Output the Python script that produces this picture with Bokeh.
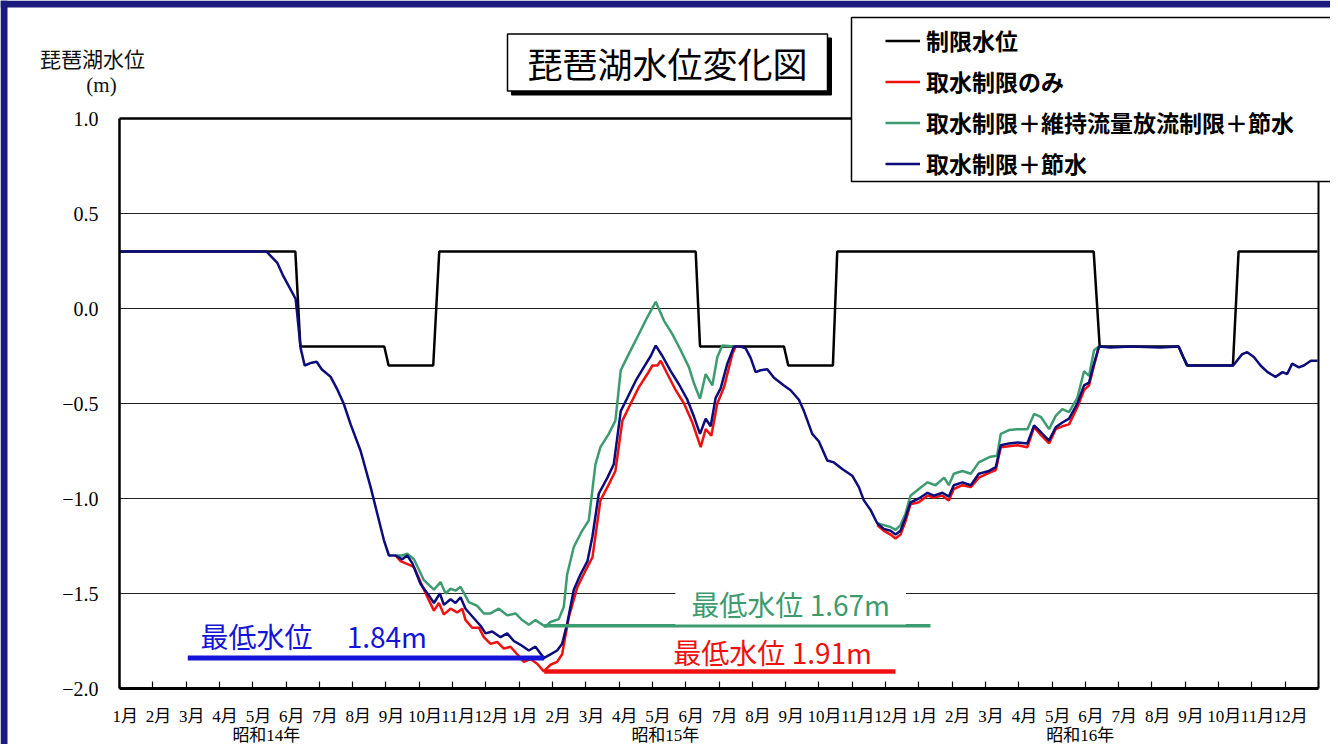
from bokeh.plotting import figure
from bokeh.models import (Range1d, FixedTicker, Label, Legend, LegendItem, BoxAnnotation,
                          LinearAxis)
from bokeh.embed import file_html
from bokeh.resources import INLINE

# ---------------- data ----------------
month_labels = ["1月", "2月", "3月", "4月", "5月", "6月", "7月", "8月", "9月", "10月", "11月", "12月"]
year_labels = ["昭和14年", "昭和15年", "昭和16年"]
year_label_pos = [4.41, 16.39, 28.85]
y_ticks = [-2.0, -1.5, -1.0, -0.5, 0.0, 0.5, 1.0]
y_tick_labels = ["−2.0", "−1.5", "−1.0", "−0.5", "0.0", "0.5", "1.0"]

series_names = ["制限水位", "取水制限のみ", "取水制限＋維持流量放流制限＋節水", "取水制限＋節水"]

# 制限水位 (x in months from 昭和14年1月)
bx = [0, 5.28, 5.43, 7.95, 8.08, 9.42, 9.6, 17.3, 17.43, 19.95, 20.08, 21.42, 21.55,
      29.25, 29.43, 31.8, 32.05, 33.43, 33.6, 35.97]
by = [0.3, 0.3, -0.2, -0.2, -0.3, -0.3, 0.3, 0.3, -0.2, -0.2, -0.3, -0.3, 0.3,
      0.3, -0.2, -0.2, -0.3, -0.3, 0.3, 0.3]

# 取水制限＋節水
nx = [0, 4.41, 4.74, 4.92, 5.29, 5.44, 5.56, 5.77, 5.92, 6.07,
      6.34, 6.55, 6.73, 6.94, 7.24, 7.54, 7.74, 7.94, 8.09, 8.29,
      8.49, 8.64, 8.79, 9.04, 9.29, 9.44, 9.62, 9.74, 9.94, 10.09,
      10.24, 10.39, 10.64, 10.84, 10.99, 11.19, 11.44, 11.64, 11.84, 12.04,
      12.29, 12.49, 12.74, 12.94, 13.14, 13.29, 13.44, 13.64, 13.84, 14.05,
      14.20, 14.39, 14.65, 14.84, 15.05, 15.25, 15.50, 15.74, 15.95, 16.10,
      16.30, 16.55, 16.80, 17.05, 17.25, 17.43, 17.60, 17.75, 17.90, 18.05,
      18.25, 18.45, 18.65, 18.80, 18.95, 19.10, 19.25, 19.45, 19.65, 19.95,
      20.15, 20.40, 20.55, 20.80, 21.00, 21.25, 21.45, 21.70, 22.00, 22.20,
      22.35, 22.55, 22.75, 22.95, 23.15, 23.30, 23.45, 23.60, 23.75, 24.00,
      24.26, 24.45, 24.71, 24.90, 25.05, 25.31, 25.56, 25.80, 26.11, 26.31,
      26.46, 26.71, 26.96, 27.26, 27.46, 27.66, 27.91, 28.11, 28.31, 28.51,
      28.76, 28.96, 29.11, 29.26, 29.41, 29.76, 30.36, 31.26, 31.80, 31.95,
      32.07, 33.44, 33.71, 33.86, 34.06, 34.26, 34.47, 34.71, 34.92, 35.06,
      35.21, 35.41, 35.56, 35.77, 35.97]
ny = [0.30, 0.30, 0.24, 0.17, 0.05, -0.21, -0.30, -0.285, -0.28, -0.32,
      -0.36, -0.43, -0.50, -0.61, -0.75, -0.94, -1.08, -1.22, -1.30, -1.30,
      -1.32, -1.30, -1.34, -1.45, -1.51, -1.55, -1.50, -1.56, -1.53, -1.55,
      -1.52, -1.58, -1.63, -1.67, -1.71, -1.70, -1.73, -1.71, -1.75, -1.77,
      -1.80, -1.78, -1.84, -1.82, -1.80, -1.765, -1.66, -1.48, -1.40, -1.33,
      -1.20, -0.975, -0.89, -0.82, -0.54, -0.47, -0.38, -0.31, -0.25, -0.195,
      -0.25, -0.33, -0.40, -0.48, -0.57, -0.66, -0.58, -0.62, -0.47, -0.42,
      -0.29, -0.20, -0.20, -0.21, -0.26, -0.335, -0.325, -0.32, -0.365, -0.405,
      -0.43, -0.48, -0.54, -0.66, -0.70, -0.80, -0.81, -0.845, -0.88, -0.94,
      -1.01, -1.06, -1.13, -1.16, -1.17, -1.19, -1.17, -1.10, -1.02, -1.00,
      -0.97, -0.985, -0.97, -0.99, -0.93, -0.915, -0.93, -0.87, -0.855, -0.835,
      -0.72, -0.71, -0.705, -0.71, -0.615, -0.65, -0.695, -0.625, -0.60, -0.58,
      -0.50, -0.405, -0.39, -0.29, -0.20, -0.205, -0.20, -0.205, -0.20, -0.26,
      -0.30, -0.30, -0.24, -0.23, -0.255, -0.30, -0.335, -0.36, -0.335, -0.345,
      -0.29, -0.31, -0.30, -0.275, -0.275]

# 取水制限のみ (where it departs from the navy line)
rx1 = [8.29, 8.44, 8.84, 9.14, 9.44, 9.59, 9.74, 9.94, 10.14, 10.29,
       10.39, 10.59, 10.79, 10.94, 11.14, 11.34, 11.54, 11.74, 11.94, 12.14,
       12.34, 12.54, 12.74, 12.94, 13.14, 13.29, 13.49, 13.74, 13.99, 14.20,
       14.44, 14.65, 14.89, 15.10, 15.35, 15.59, 15.85, 16.00, 16.15, 16.25,
       16.45, 16.70, 16.95, 17.20, 17.45, 17.60, 17.77, 17.95, 18.15, 18.40,
       18.50, 18.65]
ry1 = [-1.30, -1.33, -1.36, -1.48, -1.59, -1.55, -1.61, -1.58, -1.60, -1.58,
       -1.64, -1.68, -1.68, -1.73, -1.765, -1.755, -1.79, -1.78, -1.82, -1.86,
       -1.845, -1.87, -1.91, -1.875, -1.86, -1.82, -1.625, -1.47, -1.38, -1.31,
       -1.01, -0.94, -0.855, -0.59, -0.50, -0.415, -0.345, -0.30, -0.30, -0.275,
       -0.345, -0.43, -0.50, -0.60, -0.73, -0.635, -0.67, -0.50, -0.415, -0.24,
       -0.20, -0.20]
rx2 = [22.75, 22.95, 23.15, 23.30, 23.45, 23.60, 23.75, 24.00, 24.26, 24.45,
       24.71, 24.90, 25.05, 25.31, 25.56, 25.80, 26.11, 26.31, 26.46, 26.71,
       26.96, 27.26, 27.46, 27.66, 27.91, 28.11, 28.31, 28.51, 28.76, 28.96,
       29.11, 29.26, 29.41]
ry2 = [-1.14, -1.17, -1.19, -1.21, -1.19, -1.12, -1.03, -1.02, -0.985, -0.995,
       -0.985, -1.01, -0.95, -0.93, -0.94, -0.89, -0.865, -0.85, -0.73, -0.725,
       -0.72, -0.73, -0.625, -0.665, -0.71, -0.635, -0.62, -0.61, -0.52, -0.43,
       -0.405, -0.30, -0.20]

# 取水制限＋維持流量放流制限＋節水
gx1 = [8.29, 8.49, 8.64, 8.84, 9.14, 9.44, 9.64, 9.79, 9.94, 10.09,
       10.24, 10.49, 10.74, 10.94, 11.14, 11.39, 11.64, 11.89, 12.09, 12.29,
       12.49, 12.79, 12.94, 13.19, 13.34, 13.44, 13.64, 13.89, 14.09, 14.29,
       14.44, 14.69, 14.89, 15.05, 15.29, 15.55, 15.85, 16.10, 16.35, 16.60,
       16.85, 17.10, 17.25, 17.43, 17.60, 17.80, 17.95, 18.10, 18.45, 18.65]
gy1 = [-1.30, -1.30, -1.29, -1.32, -1.43, -1.48, -1.44, -1.50, -1.475, -1.485,
       -1.465, -1.545, -1.565, -1.605, -1.605, -1.58, -1.615, -1.605, -1.64, -1.665,
       -1.64, -1.675, -1.65, -1.635, -1.57, -1.40, -1.255, -1.17, -1.115, -0.82,
       -0.73, -0.66, -0.59, -0.325, -0.24, -0.15, -0.045, 0.035, -0.065, -0.135,
       -0.22, -0.31, -0.395, -0.475, -0.345, -0.405, -0.255, -0.195, -0.20, -0.20]
gx2 = [22.75, 22.95, 23.15, 23.30, 23.45, 23.60, 23.75, 24.00, 24.26, 24.50,
       24.76, 24.90, 25.05, 25.31, 25.56, 25.80, 26.15, 26.35, 26.46, 26.71,
       26.96, 27.26, 27.46, 27.66, 27.91, 28.11, 28.31, 28.51, 28.76, 28.96,
       29.11, 29.26, 29.41]
gy2 = [-1.13, -1.14, -1.15, -1.165, -1.14, -1.08, -0.985, -0.95, -0.915, -0.93,
       -0.89, -0.93, -0.87, -0.855, -0.87, -0.81, -0.78, -0.775, -0.66, -0.64,
       -0.635, -0.635, -0.555, -0.57, -0.635, -0.565, -0.53, -0.545, -0.47, -0.33,
       -0.355, -0.22, -0.20]

# 最低水位 annotations
min_values = [1.84, 1.91, 1.67]
min_x_start = [2.05, 12.75, 12.75]
min_x_end = [12.75, 23.3, 24.35]

# ---------------- layout / style ----------------
W, H = 1330, 744
FL, FR, FT, FB = 119, 1318, 118, 688          # plot-area edges in canvas pixels
X0, X1, Y0, Y1 = 0.0, 36.0, -2.0, 1.0
ppx = (FR - FL) / (X1 - X0)
ppy = (FB - FT) / (Y1 - Y0)
x_range = Range1d(X0 - FL / ppx, X1 + (W - FR) / ppx)
y_range = Range1d(Y0 - (H - FB) / ppy, Y1 + FT / ppy)
MONTH_LABEL_SHIFT = 0.17   # month labels sit slightly right of their tick marks

JP = "'Noto Sans CJK JP', sans-serif"
SERIF = "'Liberation Serif', 'Noto Sans CJK JP', serif"
C_BLACK = "#000000"
C_RED = "#f01010"
C_GREEN = "#3d9b70"
C_NAVY = "#0c0c7a"
C_BLUE = "#1414d8"
C_FRAME = "#1b1b7e"

p = figure(width=W, height=H, x_range=x_range, y_range=y_range,
           output_backend="svg", toolbar_location=None,
           min_border_left=0, min_border_right=0, min_border_top=0, min_border_bottom=0,
           background_fill_color="white", border_fill_color="white")
p.title.visible = False
p.outline_line_color = None
p.xgrid.visible = False
p.ygrid.visible = False

ya = p.yaxis[0]
ya.fixed_location = X0
ya.bounds = (Y0, Y1)
ya.ticker = FixedTicker(ticks=y_ticks)
ya.major_label_overrides = {t: s for t, s in zip(y_ticks, y_tick_labels)}
ya.major_tick_in = 0
ya.major_tick_out = 0
ya.minor_tick_line_color = None
ya.axis_line_width = 2.5
ya.axis_line_color = "black"
ya.major_label_standoff = 21
ya.major_label_text_font = SERIF
ya.major_label_text_font_size = "20px"
ya.major_label_text_color = "black"

# bottom axis: month labels on major ticks (hidden marks), tick marks at month
# boundaries drawn as minor ticks
xa = p.xaxis[0]
month_pos = [i + MONTH_LABEL_SHIFT for i in range(36)]
xa.fixed_location = Y0
xa.bounds = (X0, X1)
xa.ticker = FixedTicker(ticks=month_pos, minor_ticks=list(range(37)))
xa.major_label_overrides = {v: month_labels[i % 12] for i, v in enumerate(month_pos)}
xa.major_tick_line_color = None
xa.minor_tick_in = 7
xa.minor_tick_out = 0
xa.minor_tick_line_width = 1.2
xa.minor_tick_line_color = "black"
xa.axis_line_width = 2.8
xa.axis_line_color = "black"
xa.major_label_standoff = 12
xa.major_label_text_font = SERIF
xa.major_label_text_font_size = "17px"
xa.major_label_text_color = "black"

# year labels: another bottom axis without line or ticks
year_axis = LinearAxis(fixed_location=Y0, ticker=FixedTicker(ticks=year_label_pos),
                       major_label_overrides={v: s for v, s in zip(year_label_pos, year_labels)},
                       axis_line_color=None, major_tick_line_color=None,
                       minor_tick_line_color=None, major_label_standoff=31,
                       major_label_text_font=SERIF, major_label_text_font_size="17px",
                       major_label_text_color="black")
p.add_layout(year_axis, "below")

# top and right borders of the plot area
top_axis = LinearAxis(fixed_location=Y1, bounds=(X0, X1), ticker=FixedTicker(ticks=[]),
                      major_tick_line_color=None, minor_tick_line_color=None,
                      axis_line_width=2.5, axis_line_color="black")
p.add_layout(top_axis, "above")
right_axis = LinearAxis(fixed_location=X1, bounds=(Y0, Y1), ticker=FixedTicker(ticks=[]),
                        major_tick_line_color=None, minor_tick_line_color=None,
                        axis_line_width=2, axis_line_color="black")
p.add_layout(right_axis, "right")

# horizontal grid lines across the plot area
grid_y = [t for t in y_ticks if Y0 < t < Y1]
p.segment(x0=[X0] * len(grid_y), y0=grid_y, x1=[X1] * len(grid_y), y1=grid_y,
          line_color="#222222", line_width=1)

# data lines
r_black = p.line(bx, by, line_color=C_BLACK, line_width=2.5)
r_green = p.line(gx1, gy1, line_color=C_GREEN, line_width=2.5)
p.line(gx2, gy2, line_color=C_GREEN, line_width=2.5)
r_red = p.line(rx1, ry1, line_color=C_RED, line_width=2.5)
p.line(rx2, ry2, line_color=C_RED, line_width=2.5)
r_navy = p.line(nx, ny, line_color=C_NAVY, line_width=2.5)

# minimum level bars + texts
min_colors = [C_BLUE, C_RED, C_GREEN]
min_widths = [5, 4.5, 3.5]
for v, xs, xe, c, w in zip(min_values, min_x_start, min_x_end, min_colors, min_widths):
    p.line([xs, xe], [-v, -v], line_color=c, line_width=w)

min_text_pos = [(2.43, -1.726), (16.63, -1.81), (16.69, -1.553)]
min_text_fmt = ["最低水位　 {:.2f}m", "最低水位 {:.2f}m", "最低水位 {:.2f}m"]
for (tx, ty), fmt, v, c in zip(min_text_pos, min_text_fmt, min_values, min_colors):
    kw = {}
    if c == C_GREEN:
        kw = dict(background_fill_color="white", padding=(16, 1))
    p.add_layout(Label(x=tx, y=ty, text=fmt.format(v), text_color=c, text_font=JP,
                       text_font_size="28px", text_align="left", text_baseline="middle", **kw))

# slide frame bands
p.add_layout(BoxAnnotation(left=0, right=W, top=H, bottom=H - 7,
                           left_units="screen", right_units="screen",
                           top_units="screen", bottom_units="screen",
                           fill_color=C_FRAME, fill_alpha=1.0, line_color=None))
p.add_layout(BoxAnnotation(left=0, right=7, top=H, bottom=0,
                           left_units="screen", right_units="screen",
                           top_units="screen", bottom_units="screen",
                           fill_color=C_FRAME, fill_alpha=1.0, line_color=None))

# y axis title
p.add_layout(Label(x=92, y=H - 57, x_units="screen", y_units="screen", text="琵琶湖水位",
                   text_font=JP, text_font_size="21px", text_align="center",
                   text_baseline="middle", text_color="#111111"))
p.add_layout(Label(x=101, y=H - 84, x_units="screen", y_units="screen", text="(m)",
                   text_font=SERIF, text_font_size="21px", text_align="center",
                   text_baseline="middle", text_color="#111111"))

# chart title with shadow box
title_text = "琵琶湖水位変化図"
p.add_layout(Label(x=671, y=H - 66, x_units="screen", y_units="screen", text=title_text,
                   text_font=JP, text_font_size="35px", text_align="center", text_baseline="middle",
                   text_color="black", background_fill_color="black", border_line_color="black",
                   padding=(20, 3)))
p.add_layout(Label(x=667, y=H - 62, x_units="screen", y_units="screen", text=title_text,
                   text_font=JP, text_font_size="35px", text_align="center", text_baseline="middle",
                   text_color="black", background_fill_color="white", border_line_color="black",
                   border_line_width=1.5, padding=(20, 3)))

# legend box + legend
p.add_layout(BoxAnnotation(left=851, right=W + 40, top=H - 17, bottom=H - 181,
                           left_units="screen", right_units="screen",
                           top_units="screen", bottom_units="screen",
                           fill_color="white", fill_alpha=1.0,
                           line_color="black", line_width=1.5, line_alpha=1.0))
legend = Legend(items=[LegendItem(label=series_names[0], renderers=[r_black]),
                       LegendItem(label=series_names[1], renderers=[r_red]),
                       LegendItem(label=series_names[2], renderers=[r_green]),
                       LegendItem(label=series_names[3], renderers=[r_navy])],
                location=(885, H - 183.5), padding=0, spacing=0, margin=0,
                label_height=41, glyph_height=41, glyph_width=35, label_standoff=6,
                label_text_font=JP, label_text_font_size="23px", label_text_font_style="bold",
                label_text_color="black", background_fill_alpha=0, border_line_alpha=0)
p.add_layout(legend)

open("out.html", "w").write(file_html(p, INLINE))
